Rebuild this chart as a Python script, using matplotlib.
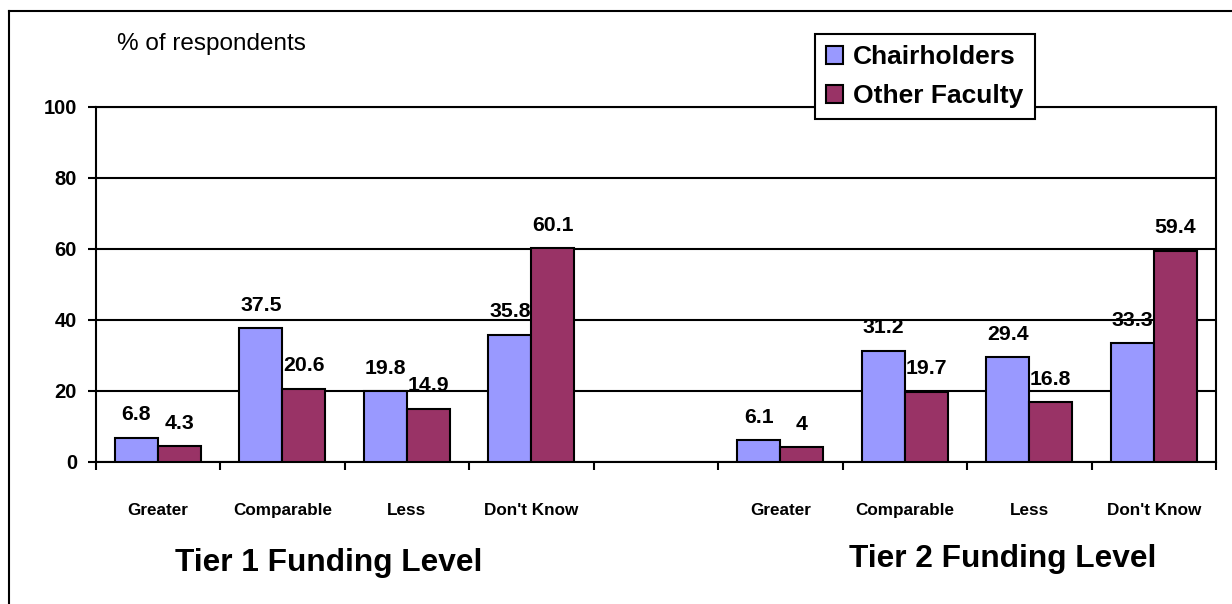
import matplotlib
matplotlib.use("Agg")
import matplotlib.pyplot as plt
from matplotlib.lines import Line2D
import numpy as np

# Survey results (% of respondents)
tiers = ["Tier 1 Funding Level", "Tier 2 Funding Level"]
categories = ["Greater", "Comparable", "Less", "Don't Know"]
chair_tier1 = [6.8, 37.5, 19.8, 35.8]
other_tier1 = [4.3, 20.6, 14.9, 60.1]
chair_tier2 = [6.1, 31.2, 29.4, 33.3]
other_tier2 = [4, 19.7, 16.8, 59.4]
series_names = ["Chairholders", "Other Faculty"]
y_ticks = [0, 20, 40, 60, 80, 100]

BLUE = "#9999FF"
MAROON = "#993366"

plt.rcParams["font.family"] = ["Liberation Sans", "DejaVu Sans"]

W, H = 1232, 604
fig = plt.figure(figsize=(W / 100, H / 100), dpi=100)

def fx(px):
    return px / W

def fy(py):
    return 1 - py / H

ax_left, ax_right, ax_top, ax_bot = 95.7, 1216, 106.5, 461.7
ax = fig.add_axes([fx(ax_left), fy(ax_bot), fx(ax_right - ax_left), fy(ax_top) - fy(ax_bot)])

# Nine slots: four categories per tier with an empty slot between tiers
n = len(categories)
pos_t1 = np.arange(n) + 0.5
pos_t2 = np.arange(n) + n + 1.5
bw = 0.345

chair_vals = chair_tier1 + chair_tier2
other_vals = other_tier1 + other_tier2
pos = np.concatenate([pos_t1, pos_t2])

b1 = ax.bar(pos - bw / 2, chair_vals, bw, color=BLUE, edgecolor="black",
            linewidth=1.5, label=series_names[0], zorder=3)
b2 = ax.bar(pos + bw / 2, other_vals, bw, color=MAROON, edgecolor="black",
            linewidth=1.5, label=series_names[1], zorder=3)

for bars, vals in ((b1, chair_vals), (b2, other_vals)):
    for rect, v in zip(bars, vals):
        ax.annotate(f"{v:g}", (rect.get_x() + rect.get_width() / 2, v),
                    xytext=(0, 12.6), textcoords="offset points",
                    ha="center", va="baseline", fontsize=15.3,
                    fontweight="bold", zorder=4)

ax.set_xlim(0, 2 * n + 1)
ax.set_ylim(0, 100)
ax.set_yticks(y_ticks)
ax.set_yticklabels([str(t) for t in y_ticks], fontsize=14.5, fontweight="bold")
ax.yaxis.grid(True, color="black", linewidth=1.5)
ax.set_axisbelow(True)
ax.tick_params(axis="y", direction="out", length=6, width=1.5, pad=7.4)

# Boundary ticks and centred category labels
ax.set_xticks(np.arange(0, 2 * n + 2))
ax.set_xticklabels([])
ax.tick_params(axis="x", which="major", direction="out", length=6, width=1.5)
ax.set_xticks(pos, minor=True)
ax.set_xticklabels(categories + categories, minor=True, fontsize=12.3,
                   fontweight="bold")
ax.tick_params(axis="x", which="minor", length=0, pad=29.5)

for s in ax.spines.values():
    s.set_linewidth(1.5)

# Tier titles and y-axis caption
fig.text(fx(329), fy(571), tiers[0], ha="center", va="baseline",
         fontsize=22.8, fontweight="bold")
fig.text(fx(1003), fy(567), tiers[1], ha="center", va="baseline",
         fontsize=22.8, fontweight="bold")
fig.text(fx(117), fy(44), "% of respondents", ha="left", va="center",
         fontsize=17.5)

leg = ax.legend(handles=[b1, b2], loc="upper left",
                bbox_to_anchor=(fx(815), fy(34)), bbox_transform=fig.transFigure,
                borderaxespad=0, prop={"weight": "bold", "size": 19},
                frameon=True, fancybox=False, shadow=False,
                handlelength=0.65, handleheight=0.65, handletextpad=0.38,
                borderpad=0.42, labelspacing=0.58)
leg.get_frame().set_edgecolor("black")
leg.get_frame().set_linewidth(1.5)
leg.get_frame().set_alpha(1)
leg.set_zorder(10)

# Outer frame lines
fig.add_artist(Line2D([fx(9.3), fx(9.3)], [0, fy(10.7)], color="black",
                      linewidth=1.5, transform=fig.transFigure))
fig.add_artist(Line2D([fx(9.3), 1], [fy(10.7), fy(10.7)], color="black",
                      linewidth=1.5, transform=fig.transFigure))

fig.savefig("out.png", dpi=100)
